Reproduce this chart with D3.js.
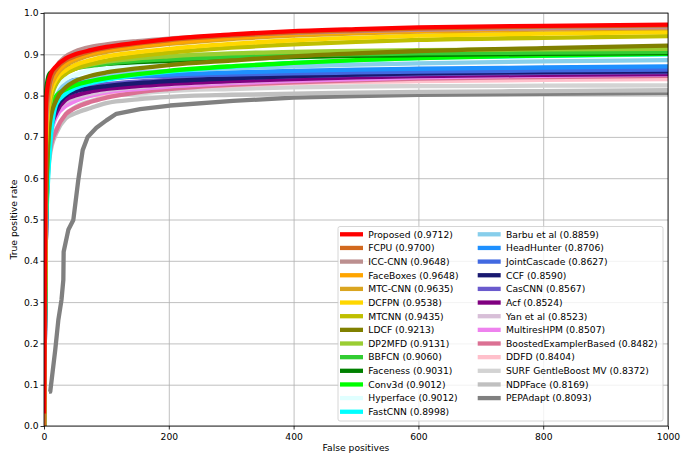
<!DOCTYPE html>
<html>
<head>
<meta charset="utf-8">
<script src="https://cdn.jsdelivr.net/npm/d3@7"></script>
<style>
  body { margin: 0; background: #fff; }
  svg text { font-family: "DejaVu Sans", sans-serif; }
</style>
</head>
<body>
<div id="chart"></div>
<script>
// shared false-positive grid for the ROC curves
const fpGrid = [0, 3, 6, 10, 20, 35, 50, 75, 100, 150, 200, 300, 400, 500, 600, 800, 1000];

const methods = [
  "Proposed", "FCPU", "ICC-CNN", "FaceBoxes", "MTC-CNN", "DCFPN", "MTCNN", "LDCF",
  "DP2MFD", "BBFCN", "Faceness", "Conv3d", "Hyperface", "FastCNN", "Barbu et al",
  "HeadHunter", "JointCascade", "CCF", "CasCNN", "Acf", "Yan et al", "MultiresHPM",
  "BoostedExamplerBased", "DDFD", "SURF GentleBoost MV", "NDPFace", "PEPAdapt"
];
const scores = [
  "0.9712", "0.9700", "0.9648", "0.9648", "0.9635", "0.9538", "0.9435", "0.9213",
  "0.9131", "0.9060", "0.9031", "0.9012", "0.9012", "0.8998", "0.8859",
  "0.8706", "0.8627", "0.8590", "0.8567", "0.8524", "0.8523", "0.8507",
  "0.8482", "0.8404", "0.8372", "0.8169", "0.8093"
];
const colors = [
  "red", "chocolate", "rosybrown", "orange", "goldenrod", "gold", "#bfbf00", "olive",
  "yellowgreen", "limegreen", "green", "lime", "lightcyan", "cyan", "skyblue",
  "dodgerblue", "royalblue", "midnightblue", "slateblue", "purple", "thistle", "violet",
  "palevioletred", "pink", "lightgrey", "silver", "grey"
];

// true positive rate at each fpGrid value
const tprProposed = [0.03, 0.78, 0.825, 0.85, 0.872, 0.89, 0.90, 0.91, 0.918, 0.928, 0.937, 0.948, 0.956, 0.961, 0.965, 0.969, 0.972];
const tprFCPU = [0, 0.74, 0.80, 0.835, 0.865, 0.885, 0.895, 0.907, 0.915, 0.926, 0.934, 0.945, 0.953, 0.958, 0.962, 0.967, 0.970];
const tprICCCNN = [0, 0.72, 0.79, 0.83, 0.87, 0.895, 0.907, 0.918, 0.924, 0.932, 0.938, 0.946, 0.952, 0.956, 0.959, 0.963, 0.965];
const tprFaceBoxes = [0, 0.70, 0.78, 0.82, 0.855, 0.878, 0.89, 0.902, 0.91, 0.92, 0.928, 0.94, 0.948, 0.953, 0.957, 0.962, 0.965];
const tprMTCCNN = [0, 0.70, 0.77, 0.815, 0.85, 0.873, 0.885, 0.898, 0.906, 0.917, 0.925, 0.937, 0.945, 0.951, 0.955, 0.96, 0.963];
const tprDCFPN = [0, 0.68, 0.76, 0.80, 0.84, 0.862, 0.874, 0.886, 0.895, 0.905, 0.913, 0.925, 0.934, 0.94, 0.945, 0.95, 0.954];
const tprMTCNN = [0, 0.66, 0.75, 0.79, 0.83, 0.853, 0.865, 0.877, 0.885, 0.896, 0.904, 0.916, 0.924, 0.93, 0.935, 0.94, 0.944];
const tprLDCF = [0, 0.5, 0.66, 0.74, 0.79, 0.82, 0.835, 0.848, 0.856, 0.866, 0.874, 0.885, 0.895, 0.902, 0.908, 0.915, 0.921];
const tprDP2MFD = [0, 0.6, 0.72, 0.78, 0.83, 0.855, 0.865, 0.875, 0.882, 0.89, 0.895, 0.902, 0.906, 0.908, 0.91, 0.912, 0.913];
const tprBBFCN = [0, 0.62, 0.73, 0.79, 0.835, 0.855, 0.865, 0.872, 0.877, 0.884, 0.888, 0.894, 0.898, 0.9, 0.902, 0.904, 0.906];
const tprFaceness = [0, 0.8, 0.84, 0.855, 0.862, 0.867, 0.87, 0.874, 0.877, 0.881, 0.884, 0.889, 0.893, 0.896, 0.898, 0.901, 0.903];
const tprConv3d = [0, 0.5, 0.66, 0.75, 0.8, 0.815, 0.825, 0.835, 0.842, 0.852, 0.86, 0.871, 0.879, 0.886, 0.891, 0.897, 0.901];
const tprHyperface = [0, 0.6, 0.72, 0.78, 0.82, 0.84, 0.85, 0.86, 0.866, 0.875, 0.88, 0.887, 0.891, 0.894, 0.896, 0.899, 0.901];
const tprFastCNN = [0, 0.45, 0.58, 0.68, 0.78, 0.805, 0.818, 0.83, 0.838, 0.85, 0.858, 0.87, 0.879, 0.886, 0.891, 0.896, 0.900];
const tprBarbu = [0, 0.5, 0.66, 0.75, 0.81, 0.83, 0.838, 0.845, 0.85, 0.856, 0.86, 0.866, 0.871, 0.875, 0.878, 0.883, 0.886];
const tprHeadHunter = [0, 0.55, 0.7, 0.77, 0.81, 0.825, 0.832, 0.838, 0.842, 0.847, 0.851, 0.856, 0.86, 0.863, 0.865, 0.868, 0.871];
const tprJointCascade = [0, 0.6, 0.73, 0.79, 0.825, 0.835, 0.838, 0.841, 0.843, 0.846, 0.848, 0.851, 0.854, 0.856, 0.858, 0.861, 0.863];
const tprCCF = [0, 0.45, 0.62, 0.72, 0.77, 0.8, 0.81, 0.818, 0.823, 0.83, 0.835, 0.842, 0.847, 0.851, 0.854, 0.857, 0.859];
const tprCasCNN = [0, 0.5, 0.65, 0.73, 0.78, 0.805, 0.815, 0.823, 0.828, 0.834, 0.838, 0.843, 0.847, 0.85, 0.852, 0.855, 0.857];
const tprAcf = [0, 0.45, 0.62, 0.71, 0.76, 0.79, 0.8, 0.81, 0.816, 0.823, 0.828, 0.835, 0.84, 0.844, 0.847, 0.85, 0.852];
const tprYan = [0, 0.48, 0.63, 0.71, 0.76, 0.785, 0.795, 0.805, 0.812, 0.82, 0.826, 0.834, 0.84, 0.844, 0.847, 0.85, 0.852];
const tprMultiresHPM = [0, 0.45, 0.62, 0.7, 0.75, 0.775, 0.787, 0.8, 0.808, 0.816, 0.822, 0.83, 0.836, 0.84, 0.844, 0.848, 0.851];
const tprBoosted = [0, 0.45, 0.6, 0.67, 0.717, 0.755, 0.77, 0.785, 0.795, 0.808, 0.816, 0.826, 0.832, 0.837, 0.841, 0.845, 0.848];
const tprDDFD = [0, 0.5, 0.66, 0.74, 0.775, 0.787, 0.793, 0.80, 0.805, 0.812, 0.818, 0.825, 0.83, 0.833, 0.835, 0.838, 0.840];
const tprSURF = [0, 0.5, 0.63, 0.68, 0.72, 0.755, 0.772, 0.787, 0.797, 0.805, 0.811, 0.816, 0.82, 0.822, 0.823, 0.824, 0.825];
const tprNDPFace = [0, 0.45, 0.6, 0.66, 0.71, 0.745, 0.757, 0.77, 0.782, 0.791, 0.797, 0.802, 0.805, 0.807, 0.809, 0.811, 0.813];

// PEPAdapt has its own (jaggy) curve
const fpPEPAdapt = [8, 10, 18, 23, 28, 31, 31.5, 39, 47, 55, 62, 70, 84, 100, 116, 154, 202, 303, 400, 500, 600, 800, 1000];
const tprPEPAdapt = [0.083, 0.083, 0.184, 0.257, 0.305, 0.354, 0.422, 0.475, 0.499, 0.596, 0.668, 0.70, 0.722, 0.74, 0.756, 0.767, 0.776, 0.787, 0.795, 0.799, 0.802, 0.804, 0.806];

const tprList = [
  tprProposed, tprFCPU, tprICCCNN, tprFaceBoxes, tprMTCCNN, tprDCFPN, tprMTCNN, tprLDCF,
  tprDP2MFD, tprBBFCN, tprFaceness, tprConv3d, tprHyperface, tprFastCNN, tprBarbu,
  tprHeadHunter, tprJointCascade, tprCCF, tprCasCNN, tprAcf, tprYan, tprMultiresHPM,
  tprBoosted, tprDDFD, tprSURF, tprNDPFace, tprPEPAdapt
];

const xTicks = [0, 200, 400, 600, 800, 1000];
const yTicks = [0, 0.1, 0.2, 0.3, 0.4, 0.5, 0.6, 0.7, 0.8, 0.9, 1.0];

const W = 694, H = 453;
const margin = { top: 13, right: 26, bottom: 27, left: 44 };
const width = W - margin.left - margin.right;
const height = H - margin.top - margin.bottom;

const svg = d3.select("#chart").append("svg")
  .attr("width", W).attr("height", H);

const g = svg.append("g")
  .attr("transform", `translate(${margin.left},${margin.top})`);

const x = d3.scaleLinear().domain([0, 1000]).range([0, width]);
const y = d3.scaleLinear().domain([0, 1]).range([height, 0]);

// grid
g.append("g")
  .attr("transform", `translate(0,${height})`)
  .call(d3.axisBottom(x).tickValues(xTicks).tickSize(-height).tickFormat(""))
  .call(s => s.select(".domain").remove())
  .call(s => s.selectAll("line").attr("stroke", "#b0b0b0").attr("stroke-width", 0.8));
g.append("g")
  .call(d3.axisLeft(y).tickValues(yTicks).tickSize(-width).tickFormat(""))
  .call(s => s.select(".domain").remove())
  .call(s => s.selectAll("line").attr("stroke", "#b0b0b0").attr("stroke-width", 0.8));

svg.append("clipPath").attr("id", "clip")
  .append("rect").attr("width", width).attr("height", height);

const smooth = d3.line().x(d => x(d[0])).y(d => y(d[1])).curve(d3.curveMonotoneX);
const jaggy = d3.line().x(d => x(d[0])).y(d => y(d[1]));

const curves = g.append("g").attr("clip-path", "url(#clip)");
// draw last legend entry first so "Proposed" ends up on top
for (let i = methods.length - 1; i >= 0; i--) {
  const isPEP = i === methods.length - 1;
  const fps = isPEP ? fpPEPAdapt : fpGrid;
  const pts = fps.map((f, j) => [f, tprList[i][j]]);
  curves.append("path")
    .attr("fill", "none")
    .attr("stroke", colors[i])
    .attr("stroke-width", 4.3)
    .attr("stroke-linejoin", "round")
    .attr("d", isPEP ? jaggy(pts) : smooth(pts));
}

// axes
const xAxis = g.append("g")
  .attr("transform", `translate(0,${height})`)
  .call(d3.axisBottom(x).tickValues(xTicks).tickSize(3.5).tickPadding(3.5).tickSizeOuter(0).tickFormat(d3.format("d")));
const yAxis = g.append("g")
  .call(d3.axisLeft(y).tickValues(yTicks).tickSize(3.5).tickPadding(2).tickSizeOuter(0).tickFormat(d3.format(".1f")));
[xAxis, yAxis].forEach(a => {
  a.select(".domain").remove();
  a.selectAll("text").attr("font-family", "DejaVu Sans").attr("font-size", 9.2).attr("fill", "#000");
  a.selectAll("line").attr("stroke", "#000").attr("stroke-width", 0.8);
});

g.append("rect")
  .attr("width", width).attr("height", height)
  .attr("fill", "none").attr("stroke", "#000").attr("stroke-width", 0.8);

svg.append("text")
  .attr("x", margin.left + width / 2).attr("y", 450.5)
  .attr("text-anchor", "middle").attr("font-size", 9.2)
  .text("False positives");
svg.append("text")
  .attr("transform", `translate(17,${margin.top + height / 2}) rotate(-90)`)
  .attr("text-anchor", "middle").attr("font-size", 9.2)
  .text("True positive rate");

// legend
const legend = svg.append("g");
legend.append("rect")
  .attr("x", 338).attr("y", 226.5).attr("width", 325).attr("height", 194.5)
  .attr("rx", 2).attr("fill", "#fff").attr("fill-opacity", 0.8)
  .attr("stroke", "#cccccc").attr("stroke-width", 0.8);

const rows = 14;
methods.forEach((m, i) => {
  const col = Math.floor(i / rows), row = i % rows;
  const sx = col === 0 ? 340 : 477.7;
  const cy = 234.3 + row * 13.65;
  legend.append("line")
    .attr("x1", sx).attr("x2", sx + 23).attr("y1", cy).attr("y2", cy)
    .attr("stroke", colors[i]).attr("stroke-width", 4.3);
  legend.append("text")
    .attr("x", sx + 28.3).attr("y", cy + 3.3)
    .attr("font-size", 9.2)
    .text(`${m} (${scores[i]})`);
});
</script>
</body>
</html>
